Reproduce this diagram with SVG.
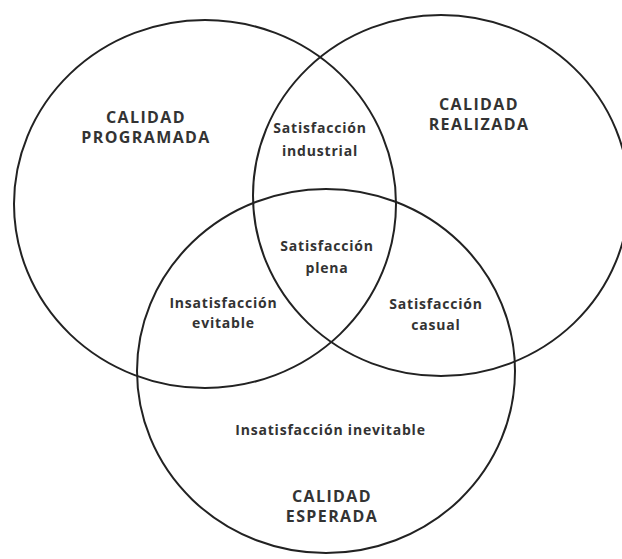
<svg xmlns="http://www.w3.org/2000/svg" width="622" height="559" viewBox="0 0 622 559">
  <style>
    .ring { fill: none; stroke: #222; stroke-width: 2; }
    .cap { font-family: "Open Sans", Lato, "Liberation Sans", sans-serif; font-weight: 700; font-size: 16px; fill: #333; text-anchor: middle; letter-spacing: 1.4px; }
    .lbl { font-family: "Open Sans", Lato, "Liberation Sans", sans-serif; font-weight: 700; font-size: 14px; fill: #333; text-anchor: middle; letter-spacing: 0.8px; }
  </style>
  <rect width="622" height="559" fill="#fff"/>

  <!-- the three sets -->
  <g id="programada">
    <ellipse class="ring" cx="205" cy="204" rx="191" ry="184"/>
    <text class="cap" x="146" y="123">CALIDAD</text>
    <text class="cap" x="146" y="143">PROGRAMADA</text>
  </g>
  <g id="realizada">
    <ellipse class="ring" cx="441" cy="195.5" rx="188" ry="180.5"/>
    <text class="cap" x="479" y="110">CALIDAD</text>
    <text class="cap" x="479" y="130">REALIZADA</text>
  </g>
  <g id="esperada">
    <ellipse class="ring" cx="326" cy="371" rx="189" ry="182"/>
    <text class="cap" x="332" y="502">CALIDAD</text>
    <text class="cap" x="332" y="522">ESPERADA</text>
  </g>

  <!-- overlap regions -->
  <g id="industrial">
    <text class="lbl" x="320" y="133">Satisfacción</text>
    <text class="lbl" x="320" y="156">industrial</text>
  </g>
  <g id="plena">
    <text class="lbl" x="327" y="251">Satisfacción</text>
    <text class="lbl" x="327" y="273">plena</text>
  </g>
  <g id="evitable">
    <text class="lbl" x="223.5" y="308">Insatisfacción</text>
    <text class="lbl" x="223.5" y="328">evitable</text>
  </g>
  <g id="casual">
    <text class="lbl" x="436" y="309">Satisfacción</text>
    <text class="lbl" x="436" y="330">casual</text>
  </g>
  <g id="inevitable">
    <text class="lbl" x="330.5" y="435">Insatisfacción inevitable</text>
  </g>
</svg>
